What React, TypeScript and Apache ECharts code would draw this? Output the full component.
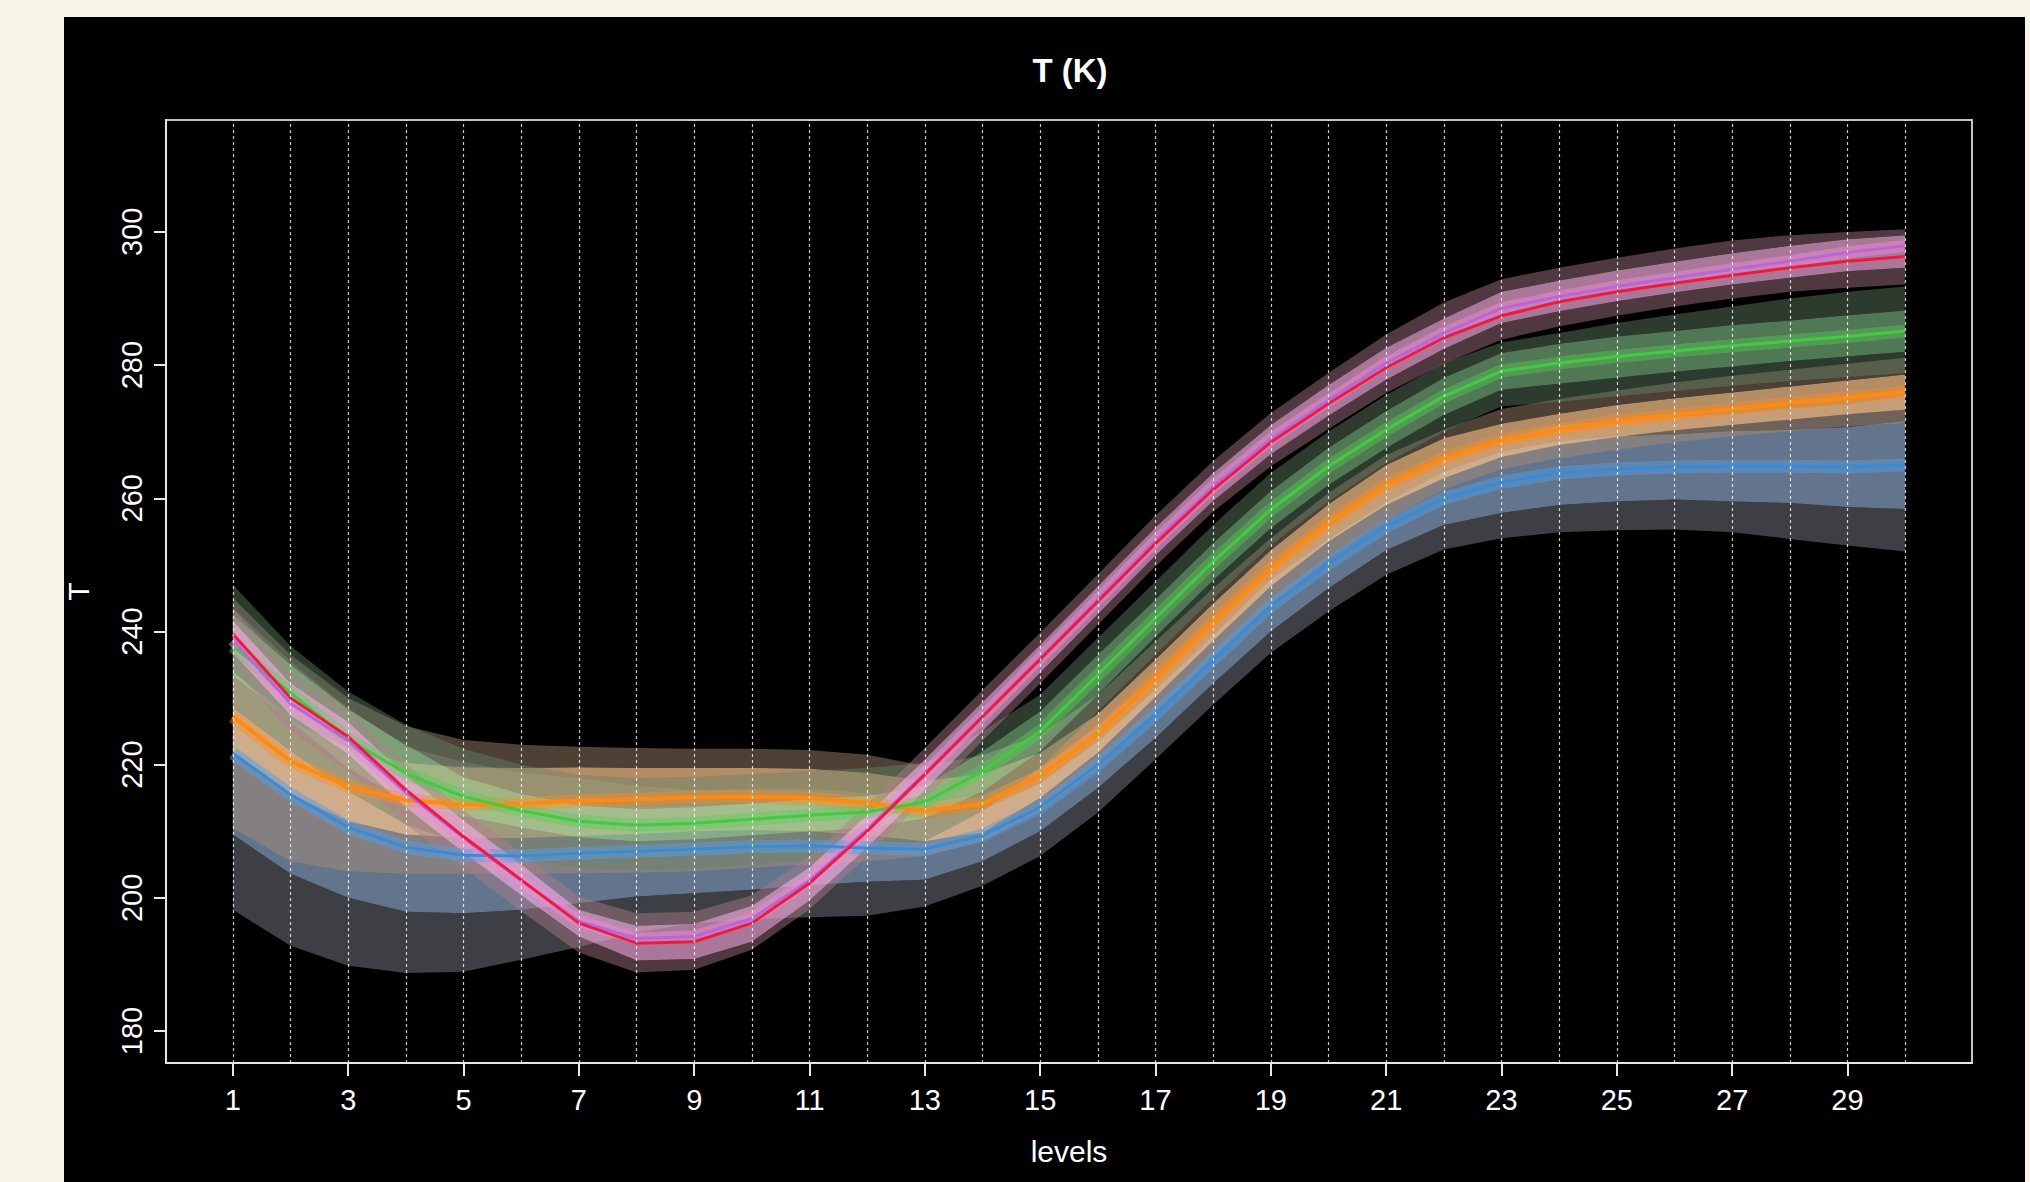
import React, { useEffect, useRef } from "react";
import * as echarts from "echarts";

// ---------- data ----------
const levels = [1, 2, 3, 4, 5, 6, 7, 8, 9, 10, 11, 12, 13, 14, 15, 16, 17, 18, 19, 20, 21, 22, 23, 24, 25, 26, 27, 28, 29, 30];
const xTickLabels = [1, 3, 5, 7, 9, 11, 13, 15, 17, 19, 21, 23, 25, 27, 29];
const yTickLabels = [180, 200, 220, 240, 260, 280, 300];

const blueMean = [221.7, 215.5, 210.6, 207.6, 206.4, 206.3, 206.7, 207.0, 207.3, 207.7, 207.8, 207.5, 207.3, 209.4, 213.6, 220.0, 227.6, 235.8, 243.9, 250.2, 255.8, 260.0, 262.4, 263.8, 264.4, 264.7, 264.8, 264.8, 264.7, 265.0];
const blueOuterLo = [198.2, 192.8, 189.8, 188.7, 188.9, 190.7, 192.6, 194.8, 196.2, 196.8, 197.1, 197.3, 198.7, 201.8, 206.3, 212.8, 220.8, 229.0, 236.8, 243.0, 248.5, 252.3, 254.0, 254.9, 255.2, 255.3, 254.9, 253.9, 252.9, 252.0];
const blueInnerLo = [209.5, 203.6, 200.0, 197.9, 197.7, 198.2, 199.2, 200.2, 200.7, 201.2, 201.9, 202.4, 202.7, 205.5, 210.0, 216.5, 224.0, 232.2, 240.0, 246.5, 252.2, 256.0, 257.8, 259.0, 259.5, 259.8, 259.5, 259.3, 258.7, 258.4];
const blueInnerHi = [233.9, 227.4, 221.2, 217.3, 215.1, 214.4, 214.2, 213.8, 213.9, 214.2, 213.7, 212.6, 211.9, 213.3, 217.2, 223.5, 231.2, 239.4, 247.8, 253.9, 259.4, 264.0, 267.0, 268.6, 269.3, 269.6, 270.1, 270.3, 270.7, 271.6];
const blueOuterHi = [243.5, 235.5, 228.5, 222.7, 220.4, 218.8, 218.0, 216.8, 216.2, 216.4, 216.4, 215.7, 214.2, 215.5, 219.3, 225.8, 233.3, 241.4, 249.7, 255.8, 261.7, 266.2, 269.0, 270.9, 271.8, 272.2, 272.7, 273.5, 274.1, 275.4];

const orangeMean = [227.2, 220.5, 216.7, 214.7, 214.0, 214.1, 214.6, 214.8, 215.1, 215.2, 215.0, 214.2, 213.1, 214.1, 218.4, 224.7, 233.0, 241.4, 249.5, 256.3, 262.0, 266.0, 268.7, 270.3, 271.6, 272.5, 273.4, 274.3, 275.1, 276.0];
const orangeOuterLo = [210.5, 205.5, 204.0, 203.6, 203.6, 203.6, 203.7, 203.8, 204.0, 204.5, 205.0, 205.5, 206.3, 208.5, 213.0, 219.5, 227.5, 236.0, 244.0, 251.0, 256.8, 261.3, 264.4, 266.0, 267.3, 268.4, 269.3, 270.1, 270.8, 271.3];
const orangeInnerLo = [221.5, 215.5, 211.5, 209.5, 209.0, 209.0, 209.3, 209.6, 210.0, 210.2, 210.0, 209.4, 208.5, 209.8, 215.0, 221.8, 230.2, 238.6, 246.8, 253.5, 259.0, 263.0, 266.2, 268.0, 269.2, 270.2, 271.0, 271.8, 272.6, 273.3];
const orangeInnerHi = [234.0, 226.5, 222.5, 220.3, 219.6, 219.5, 219.6, 219.5, 219.5, 219.5, 219.4, 218.8, 217.6, 218.6, 221.8, 227.6, 235.8, 244.2, 252.2, 259.1, 265.0, 269.0, 271.2, 272.7, 274.0, 275.0, 275.9, 276.8, 277.7, 278.6];
const orangeOuterHi = [245.0, 236.5, 230.0, 225.8, 223.7, 223.0, 222.7, 222.5, 222.4, 222.4, 222.2, 221.5, 219.8, 221.4, 224.5, 230.5, 238.5, 246.5, 254.0, 260.8, 266.5, 270.3, 273.4, 274.9, 276.2, 277.4, 278.4, 279.3, 280.2, 281.1];

const greenMean = [237.8, 230.8, 223.8, 218.7, 215.2, 213.1, 211.5, 210.9, 211.2, 211.8, 212.4, 212.9, 214.4, 219.0, 225.0, 233.5, 242.0, 250.5, 258.3, 264.8, 270.3, 275.3, 279.1, 280.3, 281.3, 282.1, 282.9, 283.6, 284.3, 285.1];
const greenOuterLo = [228.5, 222.0, 216.0, 211.0, 208.0, 206.0, 204.5, 204.0, 204.3, 205.0, 205.6, 206.2, 208.5, 213.0, 219.5, 228.0, 236.5, 245.0, 253.0, 259.5, 265.3, 270.0, 273.8, 274.5, 275.3, 276.1, 276.9, 277.6, 278.2, 278.8];
const greenInnerLo = [233.5, 226.5, 219.5, 214.5, 212.3, 210.6, 209.1, 208.5, 208.8, 209.4, 210.0, 210.5, 212.0, 216.0, 222.0, 230.5, 239.2, 247.7, 255.5, 262.0, 267.5, 272.5, 276.3, 277.2, 278.1, 279.0, 279.8, 280.6, 281.3, 282.0];
const greenInnerHi = [242.5, 235.0, 228.3, 223.0, 218.1, 215.6, 213.9, 213.3, 213.6, 214.2, 214.8, 215.3, 216.8, 222.0, 228.0, 236.5, 244.8, 253.3, 261.1, 267.6, 273.1, 278.1, 281.8, 283.2, 284.3, 285.1, 286.0, 286.7, 287.5, 288.2];
const greenOuterHi = [247.0, 237.8, 231.0, 226.0, 222.4, 220.0, 218.5, 218.0, 218.2, 218.6, 219.1, 219.5, 220.3, 225.0, 230.5, 239.0, 247.5, 256.0, 263.8, 270.0, 275.5, 280.3, 283.4, 284.8, 286.3, 287.6, 288.8, 290.0, 291.0, 291.8];

const redMean = [239.6, 230.0, 224.2, 216.2, 209.2, 202.7, 196.2, 193.2, 193.4, 196.2, 202.2, 210.0, 218.5, 227.2, 235.8, 244.5, 253.2, 261.3, 268.4, 274.2, 279.6, 284.1, 287.4, 289.5, 291.0, 292.3, 293.5, 294.6, 295.6, 296.3];
const violetMean = [238.7, 229.2, 223.6, 215.8, 209.0, 202.6, 196.5, 193.9, 194.2, 196.9, 202.6, 210.3, 218.7, 227.3, 236.0, 244.8, 253.6, 261.8, 268.9, 274.7, 280.3, 284.8, 288.5, 290.3, 291.8, 293.1, 294.4, 295.6, 296.9, 297.9];
const redOuterLo = [234.5, 225.0, 219.0, 211.0, 204.5, 198.0, 191.8, 188.8, 189.2, 192.2, 198.3, 206.2, 214.8, 223.6, 232.2, 241.0, 249.8, 258.0, 264.8, 270.4, 275.8, 280.2, 283.8, 285.8, 287.4, 288.8, 290.0, 291.0, 291.6, 292.1];
const redInnerLo = [236.8, 227.4, 221.6, 213.6, 206.8, 200.4, 194.2, 190.6, 190.8, 193.4, 199.6, 207.6, 216.2, 225.0, 233.8, 242.6, 251.4, 259.6, 266.6, 272.4, 277.8, 282.4, 286.3, 288.1, 289.6, 290.9, 292.1, 293.1, 294.1, 294.6];
const redInnerHi = [241.6, 232.2, 226.4, 218.4, 211.6, 205.0, 198.2, 195.8, 196.1, 198.8, 204.6, 212.4, 220.8, 229.4, 238.0, 246.8, 255.6, 263.8, 271.0, 277.0, 282.6, 287.0, 291.0, 292.7, 294.2, 295.5, 296.8, 297.9, 298.9, 299.5];
const redOuterHi = [243.5, 234.0, 228.2, 220.0, 213.2, 206.8, 200.2, 197.7, 197.9, 200.4, 206.3, 214.0, 222.5, 231.2, 239.8, 248.6, 257.4, 265.6, 272.8, 278.8, 284.6, 289.4, 292.9, 294.6, 296.1, 297.5, 298.7, 299.5, 300.0, 300.4];

// ---------- styling ----------
const FONT = '"Liberation Sans", Arial, Helvetica, sans-serif';

type Group = {
  key: string;
  mean: number[];
  outerLo: number[];
  innerLo: number[];
  innerHi: number[];
  outerHi: number[];
  outerColor: string;
  innerColor: string;
};

const groups: Group[] = [
  { key: "blue", mean: blueMean, outerLo: blueOuterLo, innerLo: blueInnerLo, innerHi: blueInnerHi, outerHi: blueOuterHi, outerColor: "rgba(135,140,150,0.45)", innerColor: "rgba(150,178,212,0.66)" },
  { key: "orange", mean: orangeMean, outerLo: orangeOuterLo, innerLo: orangeInnerLo, innerHi: orangeInnerHi, outerHi: orangeOuterHi, outerColor: "rgba(172,142,118,0.45)", innerColor: "rgba(250,195,140,0.72)" },
  { key: "green", mean: greenMean, outerLo: greenOuterLo, innerLo: greenInnerLo, innerHi: greenInnerHi, outerHi: greenOuterHi, outerColor: "rgba(100,130,105,0.45)", innerColor: "rgba(135,200,140,0.6)" },
  { key: "red", mean: redMean, outerLo: redOuterLo, innerLo: redInnerLo, innerHi: redInnerHi, outerHi: redOuterHi, outerColor: "rgba(175,125,140,0.45)", innerColor: "rgba(235,165,215,0.72)" },
];

function band(name: string, lo: number[], hi: number[], color: string) {
  return {
    type: "custom",
    name,
    silent: true,
    clip: true,
    data: levels.map((x, i) => [x, lo[i], hi[i]]),
    encode: { x: 0, y: [1, 2] },
    renderItem: (params: any, api: any) => {
      if (params.dataIndex !== 0) return null;
      const top = levels.map((x, i) => api.coord([x, hi[i]]));
      const bottom = levels.map((x, i) => api.coord([x, lo[i]])).reverse();
      return {
        type: "polygon",
        shape: { points: top.concat(bottom) },
        style: { fill: color, stroke: null },
      };
    },
  };
}

function line(name: string, values: number[], color: string, width: number) {
  return {
    type: "line",
    name,
    silent: true,
    symbol: "none",
    showSymbol: false,
    data: levels.map((x, i) => [x, values[i]]),
    lineStyle: { color, width, cap: "butt", join: "round" },
  };
}

function buildOption() {
  const series: any[] = [];
  groups.forEach((g) => {
    series.push(band(g.key + "-outer-lo", g.outerLo, g.innerLo, g.outerColor));
    series.push(band(g.key + "-inner", g.innerLo, g.innerHi, g.innerColor));
    series.push(band(g.key + "-outer-hi", g.innerHi, g.outerHi, g.outerColor));
  });
  // glows (narrow bands around each mean line)
  series.push(line("blue-glow", blueMean, "rgba(85,155,228,0.5)", 13));
  series.push(line("orange-glow", orangeMean, "rgba(255,140,30,0.42)", 13));
  series.push(line("green-glow", greenMean, "rgba(85,205,85,0.42)", 13));
  series.push(line("red-glow", violetMean, "rgba(235,140,210,0.5)", 12));
  // mean lines
  series.push(line("blue", blueMean, "#3b8bd4", 3));
  series.push(line("orange", orangeMean, "#ff8a12", 4));
  series.push(line("green", greenMean, "#45c845", 3));
  series.push(line("violet", violetMean, "#b866d8", 3));
  series.push(line("red", redMean, "#ee1c3c", 3));
  // dotted vertical grid lines at every level
  series.push({
    type: "line",
    name: "grid",
    silent: true,
    symbol: "none",
    showSymbol: false,
    data: [[levels[0], yTickLabels[0]]],
    lineStyle: { opacity: 0 },
    markLine: {
      silent: true,
      symbol: ["none", "none"],
      label: { show: false },
      lineStyle: { color: "rgba(255,255,255,0.78)", width: 1.2, type: [3, 3] },
      data: levels.map((x) => ({ xAxis: x })),
    },
  });

  return {
    animation: false,
    backgroundColor: "transparent",
    title: {
      text: "T (K)",
      left: 1065,
      top: 49,
      textAlign: "center",
      textStyle: { color: "#ffffff", fontSize: 33, fontWeight: "bold", fontFamily: FONT },
    },
    grid: {
      left: 166,
      top: 120,
      width: 1806,
      height: 943,
      show: true,
      borderColor: "#c4c4c4",
      borderWidth: 2,
      backgroundColor: "transparent",
    },
    xAxis: {
      type: "value",
      min: -0.16,
      max: 31.16,
      name: "levels",
      nameLocation: "middle",
      nameGap: 73,
      nameTextStyle: { color: "#ffffff", fontSize: 30, fontFamily: FONT },
      axisLine: { show: true, onZero: false, lineStyle: { color: "#e8e8e8", width: 2 } },
      axisTick: { show: true, customValues: xTickLabels, length: 13, lineStyle: { color: "#e8e8e8", width: 2 } },
      axisLabel: { customValues: xTickLabels, color: "#ffffff", fontSize: 29, margin: 22, fontFamily: FONT },
      splitLine: { show: false },
    },
    yAxis: {
      type: "value",
      min: 175.2,
      max: 316.8,
      name: "T",
      nameLocation: "middle",
      nameRotate: 90,
      nameGap: 73,
      nameTextStyle: { color: "#ffffff", fontSize: 30, fontFamily: FONT },
      axisLine: { show: true, onZero: false, lineStyle: { color: "#e8e8e8", width: 2 } },
      axisTick: { show: true, customValues: yTickLabels, length: 12, lineStyle: { color: "#e8e8e8", width: 2 } },
      axisLabel: { customValues: yTickLabels, color: "#ffffff", fontSize: 29, margin: 20, rotate: 90, fontFamily: FONT },
      splitLine: { show: false },
    },
    series,
  };
}

export default function App() {
  const ref = useRef<HTMLDivElement>(null);
  useEffect(() => {
    document.body.style.margin = "0";
    const chart = echarts.init(ref.current as HTMLDivElement, null, { renderer: "svg" });
    chart.setOption(buildOption() as any);
    return () => chart.dispose();
  }, []);
  return (
    <div style={{ position: "fixed", left: 0, top: 0, width: 2030, height: 1182, background: "#f8f4e8", overflow: "hidden" }}>
      <div style={{ position: "absolute", left: 64, top: 17, width: 1961, height: 1165, background: "#000000" }} />
      <div ref={ref} style={{ position: "absolute", left: 0, top: 0, width: 2030, height: 1182 }} />
    </div>
  );
}
